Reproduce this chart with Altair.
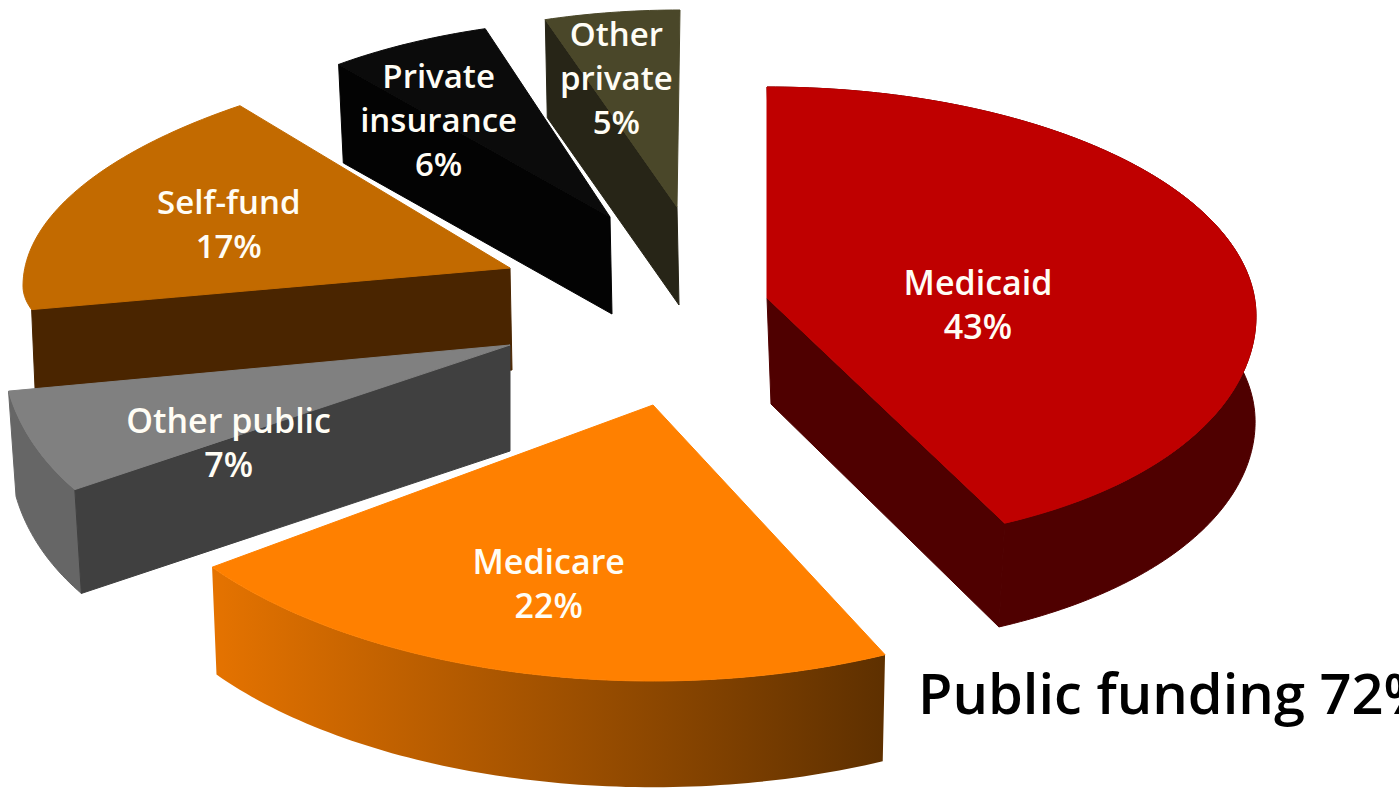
import math
import altair as alt
import pandas as pd

# Funding shares, in percent, clockwise from twelve o'clock
categories = ["Medicaid", "Medicare", "Other public", "Self-fund", "Private insurance", "Other private"]
shares = [43, 22, 7, 17, 6, 5]
label_names = ["Medicaid", "Medicare", "Other public", "Self-fund", "Private\ninsurance", "Other\nprivate"]
callout = "Public funding 72%"

# Exploded-slice geometry: apex, ellipse radii, lean terms that mimic the camera's
# perspective, extrusion depth, and where the label sits inside the slice.
# A slice whose outer rim faces away from the viewer has rim=None.
SLICE_STYLE = {
    "Medicaid": dict(apex=(767, 298), rx=489, ry_up=229, ry_down=229, rise=18, lean_up=0, lean_down=36,
                     depth=106, shift=(4, 0), shrink=0.99, sag=9,
                     top="#BF0000", cut="#4F0000", rim="#4F0000", label=(0.44, 1, 1), size=34),
    "Medicare": dict(apex=(653, 405), rx=545, ry_up=276, ry_down=276, rise=0, lean_up=0, lean_down=0,
                     depth=109, shift=(0, 0), shrink=0.99, sag=0,
                     top="#FF8000", cut=None, rim=("#E57300", "#5E3000"), label=(0.60, -23, -1), size=34),
    "Other public": dict(apex=(510, 345), rx=508, ry_up=246, ry_down=246, rise=0, lean_up=0, lean_down=-70,
                         depth=106, shift=(0, 0), shrink=0.985, sag=0,
                         top="#808080", cut="#404040", rim="#666666", label=(0.60, 5, 19), size=34),
    "Self-fund": dict(apex=(510, 268), rx=487, ry_up=234, ry_down=126, rise=18, lean_up=68, lean_down=0,
                      depth=102, shift=(2, 0), shrink=0.995, sag=0,
                      top="#C26A00", cut="#4A2500", rim=None, label=(0.60, -11, -27), size=33),
    "Private insurance": dict(apex=(610, 217), rx=436, ry_up=198, ry_down=198, rise=0, lean_up=11, lean_down=0,
                              depth=97, shift=(2, 0), shrink=0.99, sag=0,
                              top="#0B0B0B", cut="#030303", rim=None, label=(0.85, 0, 8), size=33),
    "Other private": dict(apex=(677, 207), rx=435, ry_up=197, ry_down=197, rise=0, lean_up=3, lean_down=0,
                          depth=98, shift=(2, 0), shrink=1.0, sag=0,
                          top="#4A4729", cut="#272517", rim=None, label=(0.90, -2, 4), size=33),
}
TEXT_COLOR = "#FFFDF5"
FONT = "Open Sans"


def ellipse_point(style, angle_deg):
    a = math.radians(angle_deg)
    c, s = math.cos(a), math.sin(a)
    ry = style["ry_up"] if c > 0 else style["ry_down"]
    lean = style["lean_up"] if c > 0 else style["lean_down"]
    return (style["apex"][0] + style["rx"] * s + lean * c * c,
            style["apex"][1] + style["rise"] - ry * c)


def lower(style, point):
    ax, ay = style["apex"]
    k = style["shrink"]
    below = max(0.0, (point[1] - ay - style["rise"]) / style["ry_down"])
    return (ax + style["shift"][0] + k * (point[0] - ax) - style["sag"] * below * below,
            ay + style["depth"] + style["shift"][1] + k * (point[1] - ay))


def polygon(points):
    ring = [list(p) for p in points] + [list(points[0])]
    return {"type": "Feature", "properties": {}, "geometry": {"type": "Polygon", "coordinates": [ring]}}


def face(points, fill):
    if isinstance(fill, tuple):
        paint = alt.Gradient(
            gradient="linear", x1=0, x2=1, y1=0, y2=0,
            stops=[alt.GradientStop(offset=0, color=fill[0]), alt.GradientStop(offset=1, color=fill[1])],
        )
        mark = alt.Chart(alt.Data(values=[polygon(points)])).mark_geoshape(fill=paint, strokeWidth=0)
    else:
        mark = alt.Chart(alt.Data(values=[polygon(points)])).mark_geoshape(fill=fill, stroke=fill, strokeWidth=1)
    return mark.project(type="identity", scale=1, translate=[0, 0])


# Angular extent of each slice from the cumulative shares
spans = {}
running = 0
for name, share in zip(categories, shares):
    spans[name] = (running * 3.6, (running + share) * 3.6)
    running += share

layers = []
label_rows = []
# Rear slices are painted first so the nearer ones overlap them
for name in ["Other private", "Private insurance", "Self-fund", "Other public", "Medicare", "Medicaid"]:
    st = SLICE_STYLE[name]
    start, end = spans[name]
    steps = max(12, int(end - start))
    arc = [ellipse_point(st, start + (end - start) * i / steps) for i in range(steps + 1)]
    apex = st["apex"]
    arc_low = [lower(st, p) for p in arc]
    apex_low = lower(st, apex)

    # Outer rim first, then the cut wall facing the viewer, then the top face
    if st["rim"] is not None:
        layers.append(face(arc + arc_low[::-1], st["rim"]))
    if st["cut"] is not None:
        edge = -1 if name == "Medicaid" else 0
        layers.append(face([apex, arc[edge], arc_low[edge], apex_low], st["cut"]))
    layers.append(face([apex] + arc, st["top"]))

    frac, dx, dy = st["label"]
    mx, my = ellipse_point(st, (start + end) / 2)
    i = categories.index(name)
    label_rows.append(dict(lon=apex[0] + frac * (mx - apex[0]) + dx,
                           lat=apex[1] + frac * (my - apex[1]) + dy,
                           text=f"{label_names[i]}\n{shares[i]}%",
                           size=st["size"]))

labels = (
    alt.Chart(pd.DataFrame(label_rows))
    .mark_text(font=FONT, fontWeight=600, color=TEXT_COLOR, lineBreak="\n", lineHeight=44, align="center", baseline="middle")
    .encode(longitude="lon:Q", latitude="lat:Q", text="text:N",
            size=alt.Size("size:Q", scale=None, legend=None))
    .project(type="identity", scale=1, translate=[0, 0])
)
headline = (
    alt.Chart(pd.DataFrame([dict(lon=918, lat=697, text=callout)]))
    .mark_text(font=FONT, fontSize=56, fontWeight=600, color="#000000", align="left", baseline="middle")
    .encode(longitude="lon:Q", latitude="lat:Q", text="text:N")
    .project(type="identity", scale=1, translate=[0, 0])
)

chart = (
    alt.layer(*layers, labels, headline)
    .properties(width=1399, height=792, padding=0, autosize=alt.AutoSizeParams(type="none"), background="#FFFFFF")
    .configure_view(stroke=None)
)
chart.save("out.html", embed_options={"renderer": "svg", "actions": False})
